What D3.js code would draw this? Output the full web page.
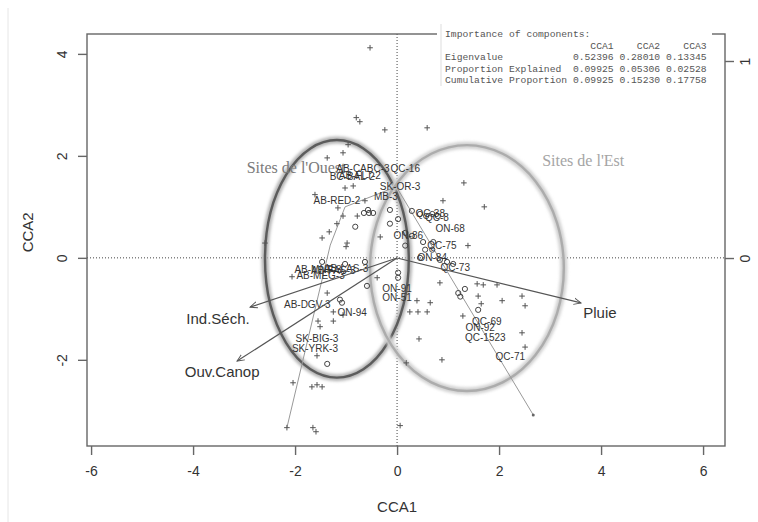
<!DOCTYPE html>
<meta charset="utf-8">
<style>
body { margin:0; background:#fff; }
text { font-family: Arial, "Liberation Sans", sans-serif; }
</style>
<script src="https://d3js.org/d3.v7.min.js"></script>
<body>
<script>

var width = 758
var height = 522

// summary table
var components = ["CCA1", "CCA2", "CCA3"]
var eigenvalue = [0.52396, 0.28010, 0.13345]
var propExplained = [0.09925, 0.05306, 0.02528]
var cumProportion = [0.09925, 0.15230, 0.17758]

var xTicks = [-6, -4, -2, 0, 2, 4, 6]
var yTicks = [-2, 0, 2, 4]
var arrowTicks = [0, 1]

// species scores (crosses)
var species = [
  [-0.53,4.12],[-0.80,2.75],[-0.73,2.67],[-0.24,2.51],[0.59,2.55],[-0.96,2.22],[-1.06,2.06],
  [-1.37,1.96],[-1.02,1.37],[-0.86,1.41],[-1.61,1.24],[-0.63,1.12],[-1.16,0.98],[-1.18,0.67],
  [-1.06,0.82],[-0.78,0.82],[-1.33,0.51],[-1.47,0.39],[-0.98,0.29],[-1.00,0.22],[-2.06,-0.37],
  [-0.33,0.41],[1.31,1.47],[0.90,1.12],[1.71,1.00],[1.39,0.24],[0.84,-0.49],[1.57,-0.51],
  [1.69,-0.53],[1.96,-0.53],[2.06,-0.84],[2.45,-0.75],[2.51,-0.94],[1.59,-0.75],[0.65,-0.88],
  [0.39,-0.84],[1.29,-1.14],[1.65,-0.90],[0.43,-1.59],[2.45,-1.47],[2.51,-1.75],[0.88,-2.00],
  [0.18,-2.06],[0.06,-3.29],[0.25,-1.06],[0.41,-1.06],[0.59,-1.06],[-1.37,-0.69],[-1.55,-1.24],
  [-1.25,-1.24],[-1.25,-1.06],[-1.06,-1.12],[-1.51,-1.35],[-1.57,-1.92],[-2.04,-2.45],
  [-1.67,-2.53],[-1.57,-2.49],[-1.47,-2.53],[-0.39,-0.39],[-2.16,-3.33],[-1.65,-3.33],
  [-1.59,-3.41],[-2.59,0.29]
]

// site scores (circles)
var sites = [
  [-0.57,0.94],[-0.65,0.88],[-0.55,0.88],[-0.47,0.88],[-0.82,0.61],[-0.14,0.94],[0.02,0.76],
  [-0.14,0.67],[0.16,0.24],[0.29,0.92],[0.45,0.86],[0.57,0.82],[0.69,0.86],[0.80,0.82],
  [0.51,0.31],[0.71,0.31],[0.55,0.16],[0.69,0.16],[0.45,0.00],[1.20,-0.69],[1.24,-0.76],
  [1.33,-0.61],[1.59,-1.02],[0.02,-0.29],[0.02,-0.39],[-0.59,-0.55],[-1.12,-0.82],[-1.08,-0.88],
  [-1.37,-2.08],[-1.47,-0.08],[-1.02,-0.12],[-0.63,-0.08],[0.16,0.49],[0.29,0.43],[0.84,-0.04],
  [0.98,-0.08],[1.10,-0.12]
]

var siteNames = ["AB-CABC-3","QC-16","BC-BAL-2","AB-FLT-2","SK-OR-3","MB-3","AB-RED-2","QC-38","QC-8",
  "ON-68","ON-86","QC-75","ON-84","QC-73","ON-91","ON-51","QC-69","ON-92","QC-1523","QC-71",
  "AB-DGV-3","ON-94","SK-BIG-3","SK-YRK-3","AB-MNF-3","AB-LAS-3","AB-FAS-3","AB-MEG-3"]
var siteNameX = [-0.67,0.16,-0.88,-0.73,0.06,-0.22,-1.18,0.65,0.78,1.04,0.22,0.88,0.69,1.14,0.00,0.00,
  1.76,1.63,1.73,2.22,-1.76,-0.88,-1.57,-1.61,-1.55,-1.00,-1.25,-1.50]
var siteNameY = [1.75,1.76,1.59,1.61,1.39,1.20,1.12,0.86,0.80,0.57,0.43,0.25,0.00,-0.18,-0.61,-0.78,
  -1.24,-1.37,-1.57,-1.94,-0.92,-1.08,-1.59,-1.78,-0.22,-0.20,-0.24,-0.35]

// environmental vectors (biplot scale, right axis)
var envNames = ["Pluie", "Ind.Séch.", "Ouv.Canop"]
var envX = [0.934, -0.746, -0.812]
var envY = [-0.228, -0.249, -0.523]
var envLabelX = [1.03, -0.909, -0.888]
var envLabelY = [-0.28, -0.31, -0.579]

// gradient lines
var gradLines = [
  [[-2.16,-3.33],[-1.31,0.25],[-1.02,1.00],[0.00,1.40]],
  [[2.67,-3.08],[0.00,1.37]]
]

// site groups (ellipses)
var groupNames = ["Sites de l'Ouest", "Sites de l'Est"]
var groupCX = [-1.18, 1.37]
var groupCY = [-0.02, -0.20]
var groupRX = [1.41, 1.90]
var groupRY = [2.33, 2.41]
var groupLabelX = [-1.98, 3.65]
var groupLabelY = [1.78, 1.92]

var svg = d3.select("body").append("svg").attr("width", width).attr("height", height)

var x = d3.scaleLinear().domain([-6.08, 6.43]).range([87, 725])
var y = d3.scaleLinear().domain([-3.69, 4.39]).range([446, 34])
var xa = d3.scaleLinear().domain([-1.574, 1.665]).range([87, 725])
var ya = d3.scaleLinear().domain([-0.954, 1.137]).range([446, 34])

var defs = svg.append("defs")
defs.append("filter").attr("id", "halo").attr("x", "-20%").attr("y", "-20%").attr("width", "140%").attr("height", "140%")
  .append("feGaussianBlur").attr("stdDeviation", 1.8)
defs.append("marker").attr("id", "head").attr("viewBox", "0 -5 10 10").attr("refX", 9).attr("refY", 0)
  .attr("markerWidth", 8).attr("markerHeight", 8).attr("markerUnits", "userSpaceOnUse").attr("orient", "auto")
  .append("path").attr("d", "M0,-4L9,0L0,4").attr("fill", "none").attr("stroke", "#555").attr("stroke-width", 1.2)

// faint frame line at left
svg.append("line").attr("x1", 8).attr("x2", 8).attr("y1", 8).attr("y2", height).attr("stroke", "#e6e6e6")

// zero lines
svg.append("line").attr("x1", x.range()[0]).attr("x2", x.range()[1]).attr("y1", y(0)).attr("y2", y(0))
  .attr("stroke", "#444").attr("stroke-dasharray", "1,2")
svg.append("line").attr("x1", x(0)).attr("x2", x(0)).attr("y1", y.range()[0]).attr("y2", y.range()[1])
  .attr("stroke", "#444").attr("stroke-dasharray", "1,2")

// ellipses
var ell = svg.append("g")
groupNames.forEach((g, i) => {
  var dark = i == 0
  ell.append("ellipse").attr("cx", x(groupCX[i])).attr("cy", y(groupCY[i]))
    .attr("rx", x(groupRX[i]) - x(0)).attr("ry", y(0) - y(groupRY[i]))
    .attr("fill", "none").attr("stroke", dark ? "#b4b4b4" : "#d0d0d0").attr("stroke-width", 7)
    .attr("filter", "url(#halo)")
  ell.append("ellipse").attr("cx", x(groupCX[i])).attr("cy", y(groupCY[i]))
    .attr("rx", x(groupRX[i]) - x(0)).attr("ry", y(0) - y(groupRY[i]))
    .attr("fill", "none").attr("stroke", dark ? "#5c5c5c" : "#acacac").attr("stroke-width", 2.4)
  svg.append("text").attr("x", x(groupLabelX[i])).attr("y", y(groupLabelY[i])).attr("dy", ".35em")
    .attr("text-anchor", "middle").style("font-family", "'Liberation Serif', 'Times New Roman', serif")
    .style("font-size", "16px").attr("fill", dark ? "#7a7a7a" : "#a5a5a5").text(g)
})

// gradient lines
var line = d3.line().x(d => x(d[0])).y(d => y(d[1]))
svg.append("g").selectAll("path").data(gradLines).enter().append("path")
  .attr("d", line).attr("fill", "none").attr("stroke", "#999").attr("stroke-width", 1)
svg.append("circle").attr("cx", x(gradLines[1][0][0])).attr("cy", y(gradLines[1][0][1])).attr("r", 1.5).attr("fill", "#666")

// species crosses
svg.append("g").selectAll("path").data(species).enter().append("path")
  .attr("d", d => "M" + (x(d[0]) - 2.8) + "," + y(d[1]) + "h5.6M" + x(d[0]) + "," + (y(d[1]) - 2.8) + "v5.6")
  .attr("stroke", "#555").attr("stroke-width", 1)

// site circles
svg.append("g").selectAll("circle").data(sites).enter().append("circle")
  .attr("cx", d => x(d[0])).attr("cy", d => y(d[1])).attr("r", 2.6)
  .attr("fill", "none").attr("stroke", "#444").attr("stroke-width", 1)

// site labels
svg.append("g").selectAll("text").data(siteNames).enter().append("text")
  .attr("x", (d, i) => x(siteNameX[i])).attr("y", (d, i) => y(siteNameY[i])).attr("dy", ".35em")
  .attr("text-anchor", "middle").style("font-size", "10px").attr("fill", "#333").text(d => d)

// env arrows
svg.append("g").selectAll("line").data(envNames).enter().append("line")
  .attr("x1", xa(0)).attr("y1", ya(0)).attr("x2", (d, i) => xa(envX[i])).attr("y2", (d, i) => ya(envY[i]))
  .attr("stroke", "#555").attr("stroke-width", 1.2).attr("marker-end", "url(#head)")
svg.append("g").selectAll("text").data(envNames).enter().append("text")
  .attr("x", (d, i) => xa(envLabelX[i])).attr("y", (d, i) => ya(envLabelY[i])).attr("dy", ".35em")
  .attr("text-anchor", "middle").style("font-size", "15px").attr("fill", "#333").text(d => d)

// box
svg.append("rect").attr("x", 87).attr("y", 34).attr("width", 725 - 87).attr("height", 446 - 34)
  .attr("fill", "none").attr("stroke", "#666").attr("stroke-width", 1.4)

// axes (plain hyphen minus, as in R)
var fmt = d => String(d)
var axB = svg.append("g").attr("transform", "translate(0,446)")
  .call(d3.axisBottom(x).tickValues(xTicks).tickSize(9).tickPadding(8).tickFormat(fmt))
var axL = svg.append("g").attr("transform", "translate(87,0)")
  .call(d3.axisLeft(y).tickValues(yTicks).tickSize(9).tickFormat(fmt))
var axR = svg.append("g").attr("transform", "translate(725,0)")
  .call(d3.axisRight(ya).tickValues(arrowTicks).tickSize(9).tickFormat(fmt))
;[axB, axL, axR].forEach(a => {
  a.select(".domain").remove()
  a.selectAll("line").attr("stroke", "#666").attr("stroke-width", 1.4)
  a.selectAll("text").style("font-size", "14px").style("font-family", "Arial, 'Liberation Sans', sans-serif").attr("fill", "#333")
})
axL.selectAll("text").attr("x", 0).attr("dy", 0).attr("text-anchor", "middle")
  .attr("transform", "translate(-20,0) rotate(-90)")
axR.selectAll("text").attr("x", 0).attr("dy", 0).attr("text-anchor", "middle")
  .attr("transform", "translate(25,0) rotate(-90)")
axB.selectAll("text").attr("dy", "0.9em")

svg.append("text").attr("x", x(0)).attr("y", 512).attr("text-anchor", "middle")
  .style("font-size", "15px").attr("fill", "#333").text("CCA1")
svg.append("text").attr("transform", "translate(33," + y(0.5) + ") rotate(-90)").attr("text-anchor", "middle")
  .style("font-size", "15px").attr("fill", "#333").text("CCA2")

// importance table
var tb = svg.append("g")
tb.append("rect").attr("x", 437).attr("y", 20).attr("width", 275).attr("height", 68).attr("fill", "#fff")
tb.append("line").attr("x1", 441).attr("x2", 441).attr("y1", 24).attr("y2", 86).attr("stroke", "#ddd")
var pad = (s, n) => s.padEnd(n)
var col = v => v.map(d => d.toFixed(5)).join(" ")
var rows = [
  "Importance of components:",
  pad("", 22) + components.map(c => c.padStart(7)).join(" "),
  pad("Eigenvalue", 22) + col(eigenvalue),
  pad("Proportion Explained", 22) + col(propExplained),
  pad("Cumulative Proportion", 22) + col(cumProportion)
]
tb.selectAll("text.row").data(rows).enter().append("text").attr("class", "row")
  .attr("x", 445).attr("y", (d, i) => 37 + i * 11.6)
  .attr("xml:space", "preserve").style("white-space", "pre")
  .style("font-family", "'Liberation Mono', 'Courier New', monospace").style("font-size", "9.7px")
  .attr("fill", "#555").text(d => d)

</script>
